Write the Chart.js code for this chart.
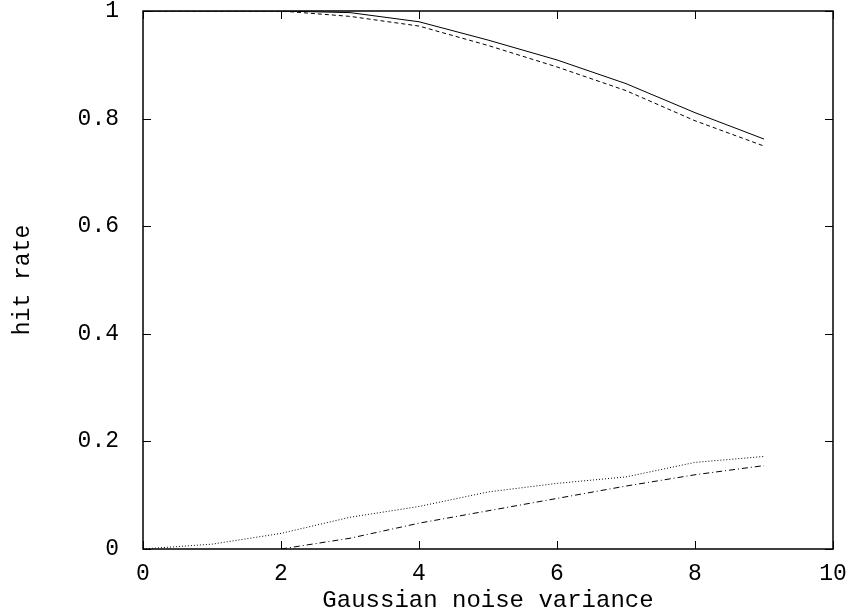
<!DOCTYPE html>
<html>
<head>
<meta charset="utf-8">
<script src="https://cdn.jsdelivr.net/npm/chart.js@4/dist/chart.umd.min.js"></script>
<style>
  html, body { margin: 0; padding: 0; background: #fff; }
  #wrap { width: 852px; height: 615px; }
</style>
</head>
<body>
<div id="wrap"><canvas id="c" width="852" height="615"></canvas></div>
<script>
// ---- data ----
const xValues      = [0, 1, 2, 3, 4, 5, 6, 7, 8, 9];
const solidSeries  = [1, 1, 1, 0.997, 0.98, 0.946, 0.909, 0.865, 0.811, 0.762];
const dashedSeries = [1, 1, 1, 0.99, 0.972, 0.936, 0.896, 0.852, 0.796, 0.749];
const dottedSeries = [0, 0.009, 0.029, 0.059, 0.079, 0.106, 0.122, 0.134, 0.161, 0.172];
const dashDotX     = [2, 3, 4, 5, 6, 7, 8, 9];
const dashDotSeries= [0, 0.02, 0.048, 0.071, 0.094, 0.117, 0.138, 0.155];
const xTicks = [0, 2, 4, 6, 8, 10];
const yTicks = [0, 0.2, 0.4, 0.6, 0.8, 1];
const xTitle = 'Gaussian noise variance';
const yTitle = 'hit rate';

const FONT = '"Liberation Mono", "DejaVu Sans Mono", monospace';
const pts = (xs, ys) => xs.map((x, i) => ({x: x, y: ys[i]}));

const framePlugin = {
  id: 'frame',
  afterDraw(chart) {
    const {ctx, chartArea: a, scales} = chart;
    ctx.save();
    ctx.strokeStyle = '#000';
    ctx.lineWidth = 1.5;
    ctx.strokeRect(a.left, a.top, a.right - a.left, a.bottom - a.top);
    ctx.lineWidth = 1;
    const L = 8;
    ctx.beginPath();
    xTicks.forEach(v => {
      const px = Math.round(scales.x.getPixelForValue(v)) + 0.5;
      ctx.moveTo(px, a.bottom); ctx.lineTo(px, a.bottom - L);
      ctx.moveTo(px, a.top); ctx.lineTo(px, a.top + L);
    });
    yTicks.forEach(v => {
      const py = Math.round(scales.y.getPixelForValue(v)) + 0.5;
      ctx.moveTo(a.left, py); ctx.lineTo(a.left + L, py);
      ctx.moveTo(a.right, py); ctx.lineTo(a.right - L, py);
    });
    ctx.stroke();
    ctx.restore();
  }
};

new Chart(document.getElementById('c'), {
  type: 'line',
  data: {
    datasets: [
      { data: pts(xValues, solidSeries),  borderColor: '#000', borderWidth: 1, pointRadius: 0, tension: 0 },
      { data: pts(xValues, dashedSeries), borderColor: '#000', borderWidth: 1, borderDash: [4, 3], pointRadius: 0, tension: 0 },
      { data: pts(xValues, dottedSeries), borderColor: '#000', borderWidth: 1, borderDash: [1, 2], pointRadius: 0, tension: 0 },
      { data: pts(dashDotX, dashDotSeries), borderColor: '#000', borderWidth: 1, borderDash: [6, 3, 1, 3], pointRadius: 0, tension: 0 }
    ]
  },
  options: {
    responsive: false,
    animation: false,
    devicePixelRatio: 1,
    layout: { padding: { top: 11, right: 19, left: 0, bottom: 0 } },
    plugins: { legend: { display: false }, tooltip: { enabled: false } },
    scales: {
      x: {
        type: 'linear', min: 0, max: 10,
        afterBuildTicks: s => { s.ticks = xTicks.map(v => ({value: v})); },
        afterFit: s => { s.height = 66; s.paddingLeft = 0; s.paddingRight = 0; },
        grid: { display: false }, border: { display: false },
        ticks: { color: '#000', font: { family: FONT, size: 23 }, padding: 3, maxRotation: 0,
                 callback: v => String(v) },
        title: { display: true, text: xTitle, color: '#000', font: { family: FONT, size: 24 }, padding: { top: 0, bottom: 0 } }
      },
      y: {
        type: 'linear', min: 0, max: 1,
        afterBuildTicks: s => { s.ticks = yTicks.map(v => ({value: v})); },
        afterFit: s => { s.width = 143; s.paddingTop = 0; s.paddingBottom = 0; },
        grid: { display: false }, border: { display: false },
        ticks: { color: '#000', font: { family: FONT, size: 23 }, padding: 16,
                 callback: v => String(v) },
        title: { display: true, text: yTitle, color: '#000', font: { family: FONT, size: 23 }, padding: { top: 9, bottom: 0 } }
      }
    }
  },
  plugins: [framePlugin]
});
</script>
</body>
</html>
